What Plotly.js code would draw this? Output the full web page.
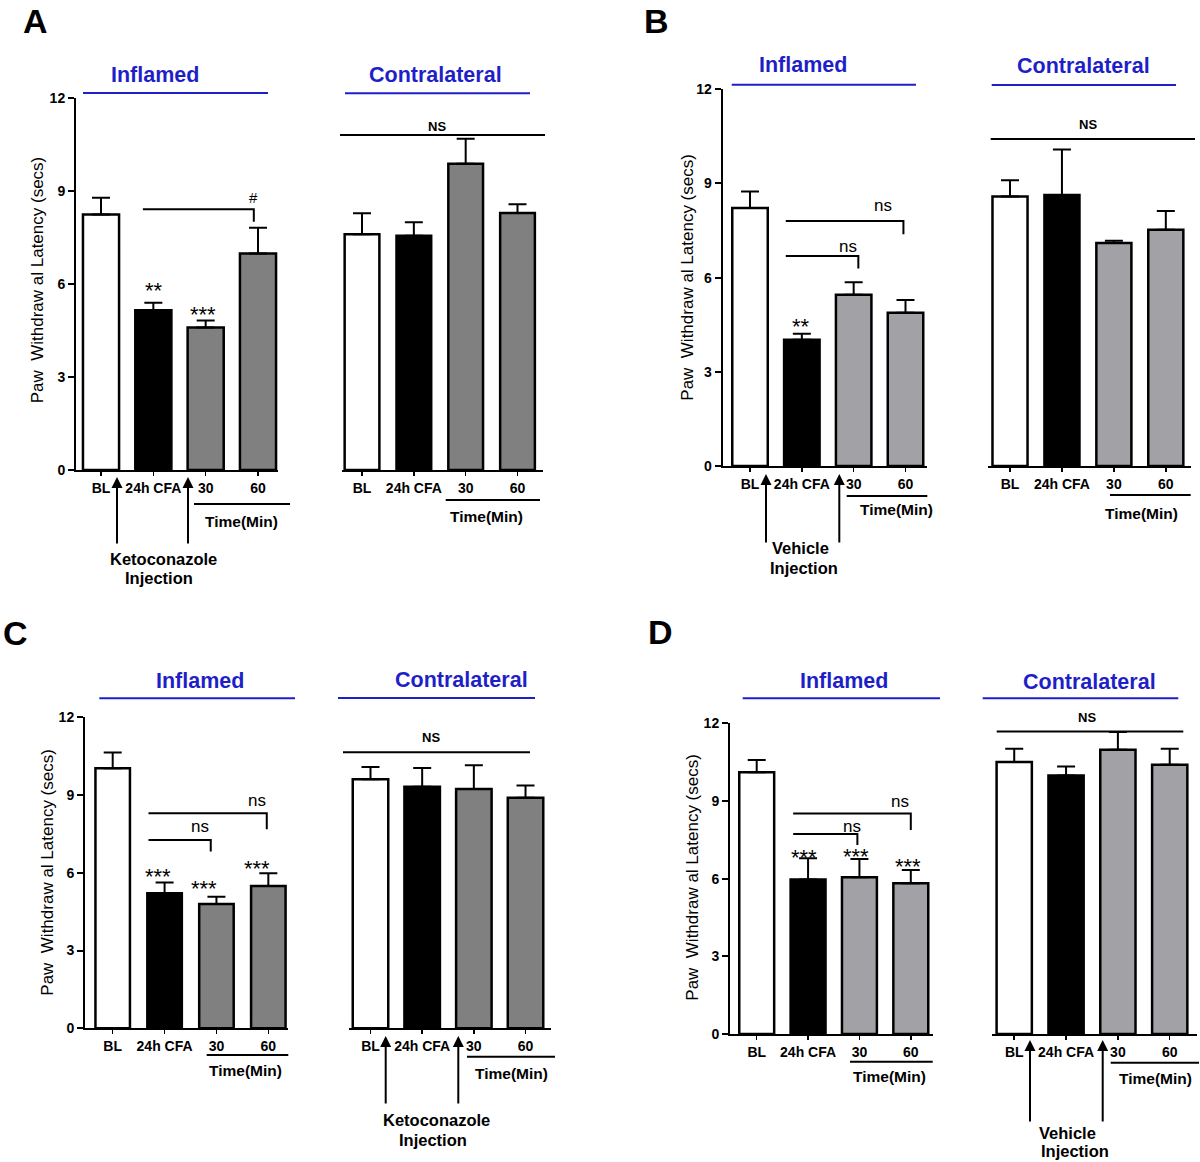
<!DOCTYPE html>
<html>
<head>
<meta charset="utf-8">
<script src="https://cdn.plot.ly/plotly-3.0.1.min.js"></script>
<style>
  html, body { margin: 0; padding: 0; background: #fff; }
  #chart { width: 1200px; height: 1162px; }
</style>
</head>
<body>
<div id="chart"></div>
<script>
const groups = ['BL', '24h CFA', '30', '60'];

// A: ketoconazole
const aInflamed = [8.23, 5.15, 4.59, 6.98];
const aInflamedSem = [0.54, 0.24, 0.23, 0.83];
const aContra = [7.60, 7.55, 9.87, 8.28];
const aContraSem = [0.67, 0.43, 0.80, 0.28];

// B: vehicle
const bInflamed = [8.22, 4.02, 5.45, 4.88];
const bInflamedSem = [0.52, 0.19, 0.40, 0.41];
const bContra = [8.58, 8.63, 7.10, 7.52];
const bContraSem = [0.52, 1.45, 0.07, 0.60];

// C: ketoconazole, contralateral injection
const cInflamed = [10.03, 5.21, 4.80, 5.49];
const cInflamedSem = [0.61, 0.42, 0.28, 0.49];
const cContra = [9.61, 9.32, 9.23, 8.90];
const cContraSem = [0.47, 0.72, 0.92, 0.47];

// D: vehicle, contralateral injection
const dInflamed = [10.11, 5.97, 6.05, 5.82];
const dInflamedSem = [0.47, 0.82, 0.71, 0.51];
const dContra = [10.51, 9.98, 10.98, 10.40];
const dContraSem = [0.51, 0.35, 0.68, 0.62];

const W = 1200, H = 1162;
const px = x => x / W;
const py = y => 1 - y / H;
const FONT = 'Arial, "Liberation Sans", sans-serif';
const BLUE = '#1f1fc8';
const GRAY_DARK = '#808080';
const GRAY_LIGHT = '#a2a2a6';

// one entry per subplot: pixel box of the axes and category range
const subplots = [
  { mean: aInflamed, sem: aInflamedSem, gray: GRAY_DARK, x0: 76, x1: 278.3, range: [-0.478, 3.388], yTop: 97.6, yBot: 470, showY: true, width: 0.69 },
  { mean: aContra, sem: aContraSem, gray: GRAY_DARK, x0: 341.7, x1: 542.7, range: [-0.392, 3.486], yTop: 97.6, yBot: 470, showY: false, width: 0.67 },
  { mean: bInflamed, sem: bInflamedSem, gray: GRAY_LIGHT, x0: 722.7, x1: 926.7, range: [-0.527, 3.409], yTop: 89.2, yBot: 466, showY: true, width: 0.685 },
  { mean: bContra, sem: bContraSem, gray: GRAY_LIGHT, x0: 988.3, x1: 1191, range: [-0.418, 3.485], yTop: 89.2, yBot: 466, showY: false, width: 0.675 },
  { mean: cInflamed, sem: cInflamedSem, gray: GRAY_DARK, x0: 85, x1: 288.3, range: [-0.534, 3.385], yTop: 717.3, yBot: 1028.3, showY: true, width: 0.665 },
  { mean: cContra, sem: cContraSem, gray: GRAY_DARK, x0: 349, x1: 551, range: [-0.416, 3.493], yTop: 717.3, yBot: 1028.3, showY: false, width: 0.687 },
  { mean: dInflamed, sem: dInflamedSem, gray: GRAY_LIGHT, x0: 730, x1: 933.3, range: [-0.52, 3.438], yTop: 723.3, yBot: 1034, showY: true, width: 0.68 },
  { mean: dContra, sem: dContraSem, gray: GRAY_LIGHT, x0: 992.3, x1: 1197.3, range: [-0.423, 3.532], yTop: 723.3, yBot: 1034, showY: false, width: 0.68 }
];

const traces = [];
const layout = {
  width: W, height: H,
  margin: { l: 0, r: 0, t: 0, b: 0 },
  paper_bgcolor: 'white',
  plot_bgcolor: 'rgba(0,0,0,0)',
  showlegend: false,
  font: { family: FONT, color: 'black' },
  shapes: [],
  annotations: []
};

subplots.forEach((s, i) => {
  const n = i + 1;
  const xa = n === 1 ? 'x' : 'x' + n;
  const ya = n === 1 ? 'y' : 'y' + n;

  traces.push({
    type: 'bar',
    x: [0, 1, 2, 3],
    y: s.mean,
    width: s.width,
    xaxis: xa,
    yaxis: ya,
    marker: { color: ['white', 'black', s.gray, s.gray], line: { color: 'black', width: 2.5 } },
    error_y: { type: 'data', symmetric: false, array: s.sem, arrayminus: [0, 0, 0, 0], color: 'black', thickness: 2, width: 9 },
    hoverinfo: 'skip'
  });

  layout['xaxis' + (n === 1 ? '' : n)] = {
    domain: [px(s.x0), px(s.x1)],
    range: s.range,
    anchor: ya,
    tickvals: [0, 1, 2, 3],
    ticktext: groups.map(g => '<b>' + g + '</b>'),
    tickfont: { family: FONT, size: 14, color: 'black' },
    showline: true, linecolor: 'black', linewidth: 2,
    ticks: 'outside', ticklen: 4, tickwidth: 1.5, tickcolor: 'black',
    showgrid: false, zeroline: false, fixedrange: true
  };
  layout['yaxis' + (n === 1 ? '' : n)] = {
    domain: [py(s.yBot), py(s.yTop)],
    range: [0, 12],
    anchor: xa,
    visible: s.showY,
    tickvals: [0, 3, 6, 9, 12],
    ticktext: ['0', '3', '6', '9', '12'].map(t => '<b>' + t + '</b>'),
    tickfont: { family: FONT, size: 14, color: 'black' },
    showline: true, linecolor: 'black', linewidth: 2,
    ticks: 'outside', ticklen: 6, tickwidth: 2, tickcolor: 'black',
    showgrid: false, zeroline: false, fixedrange: true
  };
});

// helpers for the annotation layer
function hline(x0, x1, y, color) {
  layout.shapes.push({ type: 'line', xref: 'paper', yref: 'paper', x0: px(x0), x1: px(x1), y0: py(y), y1: py(y), line: { color: color || 'black', width: 2 } });
}
function label(x, y, text, size, bold, color, extra) {
  layout.annotations.push(Object.assign({
    xref: 'paper', yref: 'paper', x: px(x), y: py(y), text: bold ? '<b>' + text + '</b>' : text,
    showarrow: false, xanchor: 'center', yanchor: 'middle',
    font: { family: FONT, size: size, color: color || 'black' }
  }, extra || {}));
}
function arrow(x, yTip, yTail) {
  layout.annotations.push({
    xref: 'paper', yref: 'paper', x: px(x), y: py(yTip), ax: 0, ay: yTail - yTip,
    axref: 'pixel', ayref: 'pixel', text: '', showarrow: true,
    arrowhead: 2, arrowsize: 1.1, arrowwidth: 2, arrowcolor: 'black', standoff: 0
  });
}
function bracket(n, from, to, y, drop) {
  layout.shapes.push({
    type: 'path', xref: n === 1 ? 'x' : 'x' + n, yref: n === 1 ? 'y' : 'y' + n,
    path: `M ${from},${y} L ${to},${y} L ${to},${drop}`,
    line: { color: 'black', width: 2 }
  });
}
function dataText(n, x, y, text, size) {
  layout.annotations.push({
    xref: n === 1 ? 'x' : 'x' + n, yref: n === 1 ? 'y' : 'y' + n, x: x, y: y, text: text,
    showarrow: false, xanchor: 'center', yanchor: 'middle',
    font: { family: FONT, size: size, color: 'black' }
  });
}

// panel letters
label(35, 21, 'A', 34, true);
label(656, 21, 'B', 34, true);
label(15, 633, 'C', 34, true);
label(660, 632, 'D', 34, true);

// y-axis titles
const yTitle = 'Paw  Withdraw al Latency (secs)';
[[37.3, 280], [686.7, 277], [46.7, 872], [691.7, 877]].forEach(p =>
  label(p[0], p[1], yTitle, 17, false, 'black', { textangle: -90 }));

// blue group headings
[
  [155, 74.6, 'Inflamed', 83, 268, 93],
  [435, 75, 'Contralateral', 345, 530, 93.3],
  [802.7, 64.7, 'Inflamed', 731.7, 916, 84.7],
  [1083.3, 66, 'Contralateral', 991.7, 1176, 85],
  [200, 680.7, 'Inflamed', 99.3, 295, 698.3],
  [461, 680, 'Contralateral', 338, 535, 698],
  [844, 680.7, 'Inflamed', 742.7, 940, 698.3],
  [1089.3, 681.7, 'Contralateral', 982.7, 1178.3, 698.3]
].forEach(h => { label(h[0], h[1], h[2], 21.5, true, BLUE); hline(h[3], h[4], h[5], BLUE); });

// Time(Min) underlines
[
  [194, 290, 504, 241, 522],
  [445.7, 540, 500, 486.7, 516],
  [846.7, 927.3, 496, 896.7, 509],
  [1110, 1190.7, 495, 1141, 513],
  [206.7, 288.3, 1055, 246, 1070],
  [467, 555, 1056.7, 511, 1073],
  [850, 932.7, 1061.7, 889.3, 1076.5],
  [1110.7, 1199, 1062.7, 1155, 1078.5]
].forEach(t => { hline(t[0], t[1], t[2]); label(t[3], t[4], 'Time(Min)', 15.5, true); });

// injection arrows
arrow(117, 477, 545); arrow(188, 477, 545);
label(163, 559, 'Ketoconazole', 16.5, true); label(159, 578, 'Injection', 16.5, true);
arrow(766, 474, 544); arrow(839.3, 474, 544);
label(800, 548, 'Vehicle', 16.5, true); label(804, 567.5, 'Injection', 16.5, true);
arrow(385.7, 1036, 1105); arrow(458.3, 1036, 1105);
label(436.7, 1120, 'Ketoconazole', 16.5, true); label(433.3, 1140, 'Injection', 16.5, true);
arrow(1030, 1040, 1123); arrow(1102.7, 1040, 1123);
label(1067, 1133, 'Vehicle', 16.5, true); label(1075, 1151, 'Injection', 16.5, true);

// NS across contralateral bars
[
  [340, 545, 135, 436.7, 126],
  [990.7, 1195, 139, 1088.3, 125],
  [343, 530, 752.3, 431, 737.3],
  [996.7, 1183.3, 731.5, 1086.7, 717]
].forEach(t => { hline(t[0], t[1], t[2]); label(t[3], t[4], 'NS', 13, true); });

// comparison brackets and stars
bracket(1, 0.80, 2.92, 8.40, 8.00);
dataText(1, 2.92, 8.77, '#', 15);
dataText(1, 1.01, 5.78, '**', 22);
dataText(1, 1.95, 5.01, '***', 22);

bracket(3, 0.69, 2.09, 6.69, 6.29);
bracket(3, 0.69, 2.96, 7.80, 7.38);
dataText(3, 1.90, 7.0, 'ns', 17);
dataText(3, 2.56, 8.3, 'ns', 17);
dataText(3, 0.98, 4.43, '**', 22);

bracket(5, 0.69, 1.89, 7.27, 6.82);
bracket(5, 0.69, 2.97, 8.30, 7.68);
dataText(5, 1.68, 7.8, 'ns', 17);
dataText(5, 2.78, 8.8, 'ns', 17);
dataText(5, 0.88, 5.86, '***', 22);
dataText(5, 1.76, 5.38, '***', 22);
dataText(5, 2.78, 6.18, '***', 22);

bracket(7, 0.71, 1.96, 7.72, 7.30);
bracket(7, 0.71, 3.00, 8.52, 7.88);
dataText(7, 1.85, 8.03, 'ns', 17);
dataText(7, 2.79, 8.97, 'ns', 17);
dataText(7, 0.92, 6.82, '***', 22);
dataText(7, 1.93, 6.86, '***', 22);
dataText(7, 2.94, 6.48, '***', 22);

Plotly.newPlot('chart', traces, layout, { displayModeBar: false, staticPlot: true });
</script>
</body>
</html>
